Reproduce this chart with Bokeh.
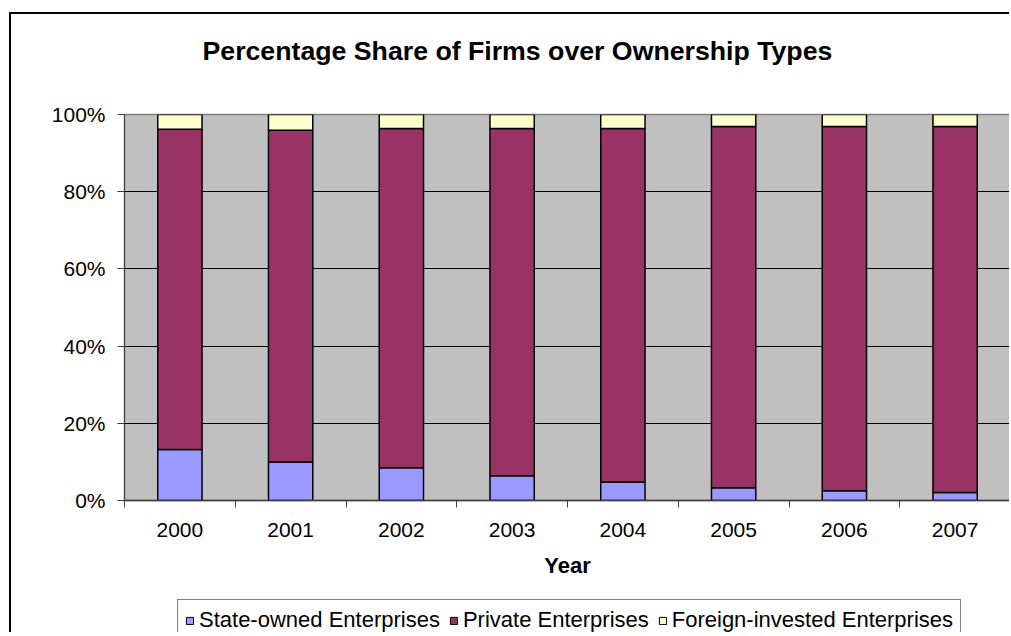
from bokeh.plotting import figure
from bokeh.models import (ColumnDataSource, Range1d, FixedTicker, PrintfTickFormatter, Legend, Title)
from bokeh.layouts import column
from bokeh.embed import file_html
from bokeh.resources import INLINE
import numpy as np

years = ["2000", "2001", "2002", "2003", "2004", "2005", "2006", "2007"]
state_owned = [13.2, 10.0, 8.5, 6.4, 4.8, 3.3, 2.5, 2.1]
private = [83.0, 85.9, 87.9, 90.0, 91.6, 93.6, 94.4, 94.8]
foreign = [3.8, 4.1, 3.6, 3.6, 3.6, 3.1, 3.1, 3.1]
series_names = ["State-owned Enterprises", "Private Enterprises", "Foreign-invested Enterprises"]
colors = ["#9999FF", "#993366", "#FFFFCC"]
y_ticks = [0, 20, 40, 60, 80, 100]

FONT = "Liberation Sans"
STACK = ["soe", "priv", "fore"]

xpos = np.arange(len(years)) + 0.5
source = ColumnDataSource(dict(x=xpos, soe=state_owned, priv=private, fore=foreign))

p = figure(width=1000, height=576, output_backend="svg", toolbar_location=None,
           x_range=Range1d(0, len(years)), y_range=Range1d(0, 100),
           min_border_left=113, min_border_right=1, min_border_top=100, min_border_bottom=90)
p.margin = (12, 0, 0, 9)
p.styles = {"border-left": "2px solid black", "border-top": "2px solid black"}

p.background_fill_color = "#C0C0C0"
p.border_fill_color = "white"
p.outline_line_color = "#808080"
p.outline_line_width = 1.5

renderers = p.vbar_stack(STACK, x="x", width=0.4, source=source,
                         fill_color=colors, line_color="black", line_width=1.5)

# grid
p.xgrid.visible = False
p.ygrid.ticker = FixedTicker(ticks=y_ticks[1:-1])
p.ygrid.grid_line_color = "black"
p.ygrid.grid_line_width = 1

# y axis
ya = p.yaxis[0]
ya.ticker = FixedTicker(ticks=y_ticks)
ya.formatter = PrintfTickFormatter(format="%d%%")
ya.major_tick_out = 7
ya.major_tick_in = 0
ya.minor_tick_out = 0
ya.minor_tick_in = 0
ya.major_label_standoff = 12
ya.major_label_text_font = FONT
ya.major_label_text_font_size = "21px"
ya.major_label_text_color = "black"
ya.axis_line_color = "#404040"
ya.major_tick_line_color = "#404040"

# x axis: labels at centers, tick marks at category boundaries
xa = p.xaxis[0]
xa.ticker = FixedTicker(ticks=list(xpos), minor_ticks=list(range(len(years) + 1)))
xa.major_label_overrides = {float(v): y for v, y in zip(xpos, years)}
xa.major_tick_out = 0
xa.major_tick_in = 0
xa.major_tick_line_color = None
xa.minor_tick_out = 7
xa.minor_tick_in = 0
xa.minor_tick_line_color = "#404040"
xa.axis_line_color = "#404040"
xa.axis_line_width = 1.5
xa.major_label_standoff = 15
xa.major_label_text_font = FONT
xa.major_label_text_font_size = "21px"
xa.major_label_text_color = "black"
xa.axis_label = "Year"
xa.axis_label_text_font = FONT
xa.axis_label_text_font_style = "bold"
xa.axis_label_text_font_size = "22px"
xa.axis_label_text_color = "black"
xa.axis_label_standoff = 13

# real title (outer) and a blank spacer title between it and the frame
p.title.text = "Percentage Share of Firms over Ownership Types"
p.title.text_font = FONT
p.title.text_font_style = "bold"
p.title.text_font_size = "26.7px"
p.title.text_color = "black"
p.title.align = "left"
p.title.offset = 78
p.title.standoff = 10
spacer = Title(text=" ", text_font_size="10px", standoff=31)
p.add_layout(spacer, "above")

# legend strip below the chart (its frame aligns with the chart's frame)
p2 = figure(width=1000, height=44, output_backend="svg", toolbar_location=None,
            x_range=Range1d(-3, -2), y_range=Range1d(0, 100),
            x_axis_location=None, y_axis_location=None,
            min_border_left=0, min_border_right=0, min_border_top=0, min_border_bottom=0)
p2.margin = (0, 0, 0, 9)
p2.styles = {"border-left": "2px solid black"}
p2.outline_line_color = None
p2.background_fill_color = "white"
p2.border_fill_color = "white"
p2.xgrid.visible = False
p2.ygrid.visible = False

# same stack drawn out of view in the strip, used only as legend glyph sources
proxies = p2.vbar_stack(STACK, x="x", width=0.4, source=source,
                        fill_color=colors, line_color="black", line_width=1)

legend = Legend(items=[(n, [r]) for n, r in zip(series_names, proxies)],
                orientation="horizontal", location=(53, -9))
legend.label_text_font = FONT
legend.label_text_font_size = "22px"
legend.label_text_color = "black"
legend.glyph_width = 9
legend.glyph_height = 9
legend.label_standoff = 5
legend.spacing = 9
legend.padding = 7
legend.margin = 0
legend.border_line_color = "black"
legend.border_line_width = 1
legend.background_fill_color = "white"
legend.background_fill_alpha = 1
p2.add_layout(legend, "center")

layout = column(p, p2, spacing=0)

open("out.html", "w").write(file_html(layout, INLINE))
